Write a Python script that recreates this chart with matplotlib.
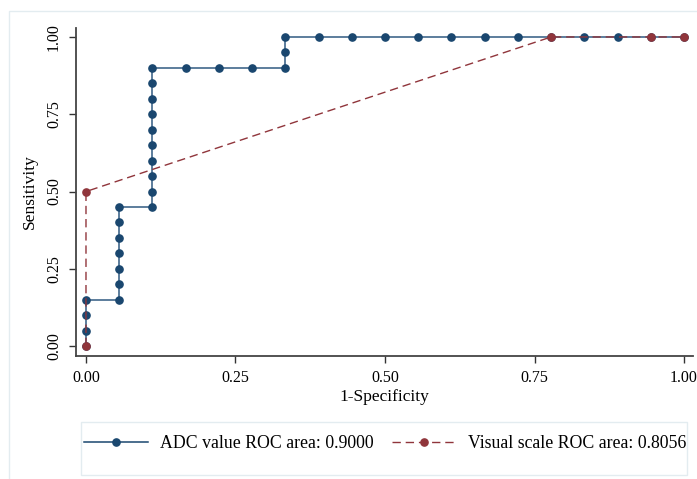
import numpy as np
import matplotlib
matplotlib.use("Agg")
import matplotlib.pyplot as plt
from matplotlib.patches import Rectangle

# ROC points, 1-specificity in eighteenths, sensitivity in twentieths
adc_fpr_n = [0, 0, 0, 0, 1, 1, 1, 1, 1, 1, 1, 2, 2, 2, 2, 2, 2, 2, 2, 2, 2,
             3, 4, 5, 6, 6, 6, 7, 8, 9, 10, 11, 12, 13, 14, 15, 16, 17, 18]
adc_tpr_n = [0, 1, 2, 3, 3, 4, 5, 6, 7, 8, 9, 9, 10, 11, 12, 13, 14, 15, 16, 17, 18,
             18, 18, 18, 18, 19, 20, 20, 20, 20, 20, 20, 20, 20, 20, 20, 20, 20, 20]
vis_fpr_n = [0, 0, 14, 17, 18]
vis_tpr_n = [0, 10, 20, 20, 20]
adc_label = "ADC value ROC area: 0.9000"
vis_label = "Visual scale ROC area: 0.8056"
ticks = [0, 0.25, 0.5, 0.75, 1.0]

adc_x = np.array(adc_fpr_n) / 18
adc_y = np.array(adc_tpr_n) / 20
vis_x = np.array(vis_fpr_n) / 18
vis_y = np.array(vis_tpr_n) / 20

plt.rcParams["font.family"] = ["Liberation Serif", "DejaVu Serif"]
blue = "#1a476f"
red = "#90353b"
frame_col = "#e3ecf0"

fig = plt.figure(figsize=(6.97, 4.79), dpi=100)
fig.patches.append(Rectangle((9 / 697, -0.1), 1.1, (479 - 11) / 479 + 0.1,
                             transform=fig.transFigure, fill=False,
                             edgecolor=frame_col, lw=1))
# legend box
fig.patches.append(Rectangle((81 / 697, 4 / 479), 606 / 697, 53 / 479,
                             transform=fig.transFigure, fill=False,
                             edgecolor=frame_col, lw=1))
ax = fig.add_axes([76 / 697, 123 / 479, 617 / 697, 328 / 479])

ax.plot(adc_x, adc_y, color="#4f7394", lw=1.3, zorder=2)
ax.plot(adc_x, adc_y, ls="none", marker="o", ms=5.2, color=blue, zorder=3)
ax.plot(vis_x, vis_y, color=red, lw=1.0, ls=(0, (6, 3.5)), zorder=4)
ax.plot(vis_x, vis_y, ls="none", marker="o", ms=5.2, color=red, zorder=5)

ax.set_xlim(-0.0167, 1.015)
ax.set_ylim(-0.032, 1.029)
ax.set_xticks(ticks)
ax.set_yticks(ticks)
ax.set_xticklabels([f"{t:.2f}" for t in ticks], fontsize=11.5)
ax.set_yticklabels([f"{t:.2f}" for t in ticks], fontsize=11.5, rotation=90,
                   va="center")
ax.tick_params(direction="out", length=5, width=1, color="#333333", pad=5)
for s in ["top", "right"]:
    ax.spines[s].set_visible(False)
for s in ["left", "bottom"]:
    ax.spines[s].set_color("#444444")
    ax.spines[s].set_linewidth(1.3)
ax.set_xlabel("1-Specificity", fontsize=12.5, labelpad=2)
ax.set_ylabel("Sensitivity", fontsize=12.5, labelpad=6)

h1 = plt.Line2D([], [], color=blue, lw=1.1, marker="o", ms=5.2)
h2 = plt.Line2D([], [], color=red, lw=1.0, ls=(0, (6, 3.5)), marker="o", ms=5.2)
leg = fig.legend([h1, h2], [adc_label, vis_label], ncol=2,
                 loc="center left", bbox_to_anchor=(84 / 697, 35 / 479),
                 fontsize=12.8, handlelength=3.6, frameon=False,
                 borderaxespad=0, borderpad=0, columnspacing=1.0,
                 handletextpad=0.7)

fig.savefig("out.png", dpi=100)
